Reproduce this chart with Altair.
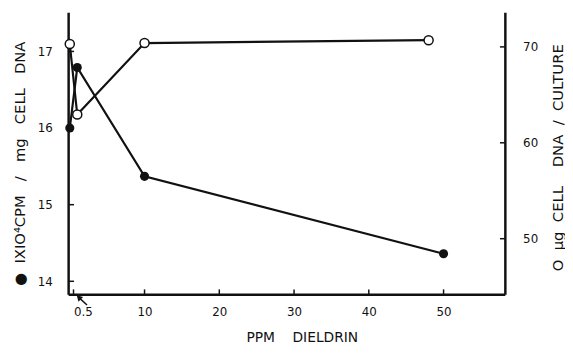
import altair as alt
import pandas as pd

# ---- data ----
ppm_filled = [0, 1, 10, 50]
cpm_filled = [16.0, 16.79, 15.37, 14.36]          # 1x10^4 CPM / mg cell DNA
ppm_open = [0, 1, 10, 48]
dna_open = [70.3, 62.95, 70.4, 70.7]               # ug cell DNA / culture

x_ticks = [0.5, 10, 20, 30, 40, 50]
left_ticks = [14, 15, 16, 17]
right_ticks = [50, 60, 70]

# arrow pointing at the 0.5 tick (data coordinates)
arrow_ppm = [2.3, 1.2]
arrow_cpm = [13.69, 13.79]

W, H = 443, 286
FONT = "DejaVu Sans"
INK = "#111111"
S = "\u00a0"

x_scale = alt.Scale(domain=[-0.22, 58.2], nice=False, zero=False)
yl_scale = alt.Scale(domain=[13.83, 17.51], nice=False, zero=False)
yr_scale = alt.Scale(domain=[44.2, 73.6], nice=False, zero=False)

x_axis = alt.Axis(
    values=x_ticks,
    labelExpr="datum.value == 0.5 ? '\u00a0\u00a00.5' : toString(datum.value)",
    labelAlign={"condition": {"test": "datum.value == 0.5", "value": "left"}, "value": "center"},
    title="PPM" + S * 4 + "DIELDRIN",
    ticks=False, tickSize=0, grid=False, labelPadding=12, domainWidth=2.5,
    domainColor=INK, labelFont=FONT, labelFontSize=12, labelColor=INK,
    titleFont=FONT, titleFontSize=14, titleFontWeight="normal", titleColor=INK,
    titleX=237, titleY=44, titleBaseline="middle", titleAlign="center",
)
yl_axis = alt.Axis(
    values=left_ticks, format="d",
    title="●" + S * 2 + "IXIO⁴CPM" + S * 3 + "/" + S * 3 + "mg" + S * 3 + "CELL" + S * 3 + "DNA",
    ticks=False, tickSize=0, grid=False, labelPadding=16, domainWidth=2.5,
    domainColor=INK, labelFont=FONT, labelFontSize=12, labelColor=INK,
    titleFont=FONT, titleFontSize=15, titleFontWeight="normal", titleColor=INK,
    titleAngle=270, titleX=-49, titleY=153, titleBaseline="middle", titleAlign="center",
)
yr_axis = alt.Axis(
    orient="right", values=right_ticks, format="d",
    title="O" + S * 2 + "µg" + S * 2 + "CELL" + S * 4 + "DNA" + S * 2 + "/" + S * 2 + "CULTURE",
    ticks=False, tickSize=0, grid=False, labelPadding=18, domainWidth=2.5,
    domainColor=INK, labelFont=FONT, labelFontSize=12, labelColor=INK,
    titleFont=FONT, titleFontSize=15, titleFontWeight="normal", titleColor=INK,
    titleAngle=270, titleX=53, titleY=147, titleBaseline="middle", titleAlign="center",
)

df_f = pd.DataFrame({"ppm": ppm_filled, "val": cpm_filled})
df_o = pd.DataFrame({"ppm": ppm_open, "val": dna_open})
df_lt = pd.DataFrame({"val": left_ticks})
df_rt = pd.DataFrame({"val": right_ticks})
df_xt = pd.DataFrame({"ppm": x_ticks})
df_ar = pd.DataFrame({"ppm": arrow_ppm, "val": arrow_cpm})

X = alt.X("ppm:Q", scale=x_scale, axis=x_axis)
YL = alt.Y("val:Q", scale=yl_scale, axis=yl_axis)
YR = alt.Y("val:Q", scale=yr_scale, axis=yr_axis)

line_f = alt.Chart(df_f).mark_line(color=INK, strokeWidth=2.2).encode(x=X, y=YL, order="ppm:Q")
pts_f = alt.Chart(df_f).mark_point(shape="circle", filled=True, color=INK, size=85, opacity=1).encode(x=X, y=YL)
ticks_l = alt.Chart(df_lt).mark_rule(color=INK, strokeWidth=1.5).encode(
    y=YL, x=alt.value(0), x2=alt.value(6))
ticks_x = alt.Chart(df_xt).mark_rule(color=INK, strokeWidth=1.5).encode(
    x=X, y=alt.value(H - 5), y2=alt.value(H))
arrow_line = alt.Chart(df_ar).mark_line(color=INK, strokeWidth=1.5, clip=False).encode(x=X, y=YL)
arrow_head = alt.Chart(df_ar.iloc[[1]]).mark_point(
    shape="triangle-up", filled=True, color=INK, size=45, angle=315, opacity=1, clip=False
).encode(x=X, y=YL)

left = alt.layer(line_f, ticks_l, ticks_x, arrow_line, arrow_head, pts_f)

line_o = alt.Chart(df_o).mark_line(color=INK, strokeWidth=2.2).encode(x=X, y=YR, order="ppm:Q")
pts_o = alt.Chart(df_o).mark_point(shape="circle", filled=True, fill="white", stroke=INK,
                                   strokeWidth=1.5, size=85, opacity=1).encode(x=X, y=YR)
ticks_r = alt.Chart(df_rt).mark_rule(color=INK, strokeWidth=1.5).encode(
    y=YR, x=alt.value(W - 5), x2=alt.value(W))

right = alt.layer(line_o, ticks_r, pts_o)

chart = alt.layer(left, right).resolve_scale(y="independent").properties(
    width=W, height=H,
    autosize=alt.AutoSizeParams(type="none"),
    padding={"left": 61, "top": 2, "right": 61, "bottom": 51},
    background="white",
).configure_view(stroke=None)

chart.save("out.html", embed_options={"renderer": "svg", "actions": False})
